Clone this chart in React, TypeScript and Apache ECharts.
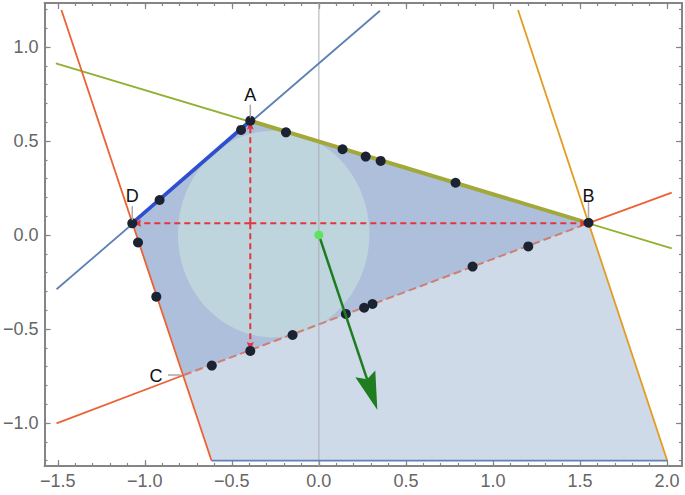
import React, { useEffect, useRef } from "react";
import * as echarts from "echarts";

// ---- axis ranges & ticks ----
const xMin = -1.576;
const xMax = 2.086;
const yMin = -1.229;
const yMax = 1.234;
const xMajor = [-1.5, -1.0, -0.5, 0.0, 0.5, 1.0, 1.5, 2.0];
const yMajor = [-1.0, -0.5, 0.0, 0.5, 1.0];

// ---- corner points A, B, C, D ----
const cornerNames = ["A", "B", "C", "D"];
const cornerX = [-0.394, 1.549, -0.775, -1.072];
const cornerY = [0.608, 0.063, -0.745, 0.063];

// ---- feasible region (light) ----
const regionX = [-1.072, -0.394, 1.549, 2.001, -0.617];
const regionY = [0.063, 0.608, 0.063, -1.2, -1.2];

// ---- inscribed circle ----
const circleCenter = [-0.26, 0.005];
const circleRadius = 0.55;

// ---- constraint lines ----
const lineBlueX = [-1.507, 0.351];
const lineBlueY = [-0.289, 1.193];
const lineOliveX = [-1.511, 2.027];
const lineOliveY = [0.913, -0.071];
const lineSteepLeftX = [-1.479, -0.617];
const lineSteepLeftY = [1.197, -1.2];
const lineGoldX = [1.144, 2.001];
const lineGoldY = [1.197, -1.2];
const lineLowLeftX = [-1.507, -0.775];
const lineLowLeftY = [-1.002, -0.745];
const lineLowRightX = [1.549, 2.027];
const lineLowRightY = [0.063, 0.225];
const lineBottomX = [-0.617, 2.001];
const lineBottomY = [-1.2, -1.2];

// ---- sample points ----
const dotX = [-1.072, -1.039, -0.934, -0.915, -0.615, -0.447, -0.394, -0.189, 0.136, 0.269, 0.355, 0.785, 1.549, -0.394, -0.151, 0.155, 0.26, 0.308, 0.883, 1.203];
const dotY = [0.062, -0.04, -0.328, 0.186, -0.695, 0.559, 0.608, 0.546, 0.456, 0.417, 0.394, 0.278, 0.065, -0.617, -0.532, -0.42, -0.387, -0.367, -0.168, -0.061];

// ---- arrows ----
const redArrowStart = [-0.394, 0.063];
const redArrowEndX = [-0.394, 1.549, -1.072, -0.394];
const redArrowEndY = [0.608, 0.063, 0.063, -0.617];
const greenArrowStart = [0, 0];
const greenArrowEnd = [0.336, -0.931];

const fmt = (v: number) => (v < 0 ? "\u2212" : "") + Math.abs(v).toFixed(1);

function minorTicks(lo: number, hi: number) {
  const out: number[] = [];
  for (let k = Math.ceil(lo * 10); k <= Math.floor(hi * 10); k++) out.push(k / 10);
  return out;
}

const AXIS_COLOR = "#858585";
const LABEL_COLOR = "#666";

function axis(min: number, max: number, position: string, values: number[], len: number, labels: boolean, line: boolean) {
  return {
    type: "value",
    min,
    max,
    position,
    axisLine: { show: line, onZero: false, lineStyle: { color: AXIS_COLOR, width: 2 } },
    axisTick: { show: true, inside: true, length: len, customValues: values, lineStyle: { color: AXIS_COLOR, width: 1.2 } },
    axisLabel: {
      show: labels,
      customValues: values,
      formatter: fmt,
      color: LABEL_COLOR,
      fontSize: 18,
      fontFamily: "Liberation Sans, Arial, sans-serif",
      margin: 6,
    },
    splitLine: { show: false },
  };
}

function seg(xs: number[], ys: number[], color: string, width: number, z: number, type = "solid") {
  return {
    type: "line",
    data: xs.map((x, i) => [x, ys[i]]),
    showSymbol: false,
    symbol: "none",
    silent: true,
    lineStyle: { color, width, type },
    z,
  };
}

function arrowSeries(starts: number[][], ends: number[][], color: string, width: number, headLen: number, headW: number, dash: number[] | null, z: number) {
  return {
    type: "custom",
    silent: true,
    z,
    data: starts.map((s, i) => [s[0], s[1], ends[i][0], ends[i][1]]),
    renderItem: (params: any, api: any) => {
      const p0 = api.coord([api.value(0), api.value(1)]);
      const p1 = api.coord([api.value(2), api.value(3)]);
      const dx = p1[0] - p0[0];
      const dy = p1[1] - p0[1];
      const L = Math.hypot(dx, dy) || 1;
      const ux = dx / L, uy = dy / L;
      const nx = -uy, ny = ux;
      const bx = p1[0] - ux * headLen, by = p1[1] - uy * headLen;
      const notch = [p1[0] - ux * headLen * 0.85, p1[1] - uy * headLen * 0.85];
      return {
        type: "group",
        children: [
          {
            type: "line",
            shape: { x1: p0[0], y1: p0[1], x2: notch[0], y2: notch[1] },
            style: { stroke: color, lineWidth: width, lineDash: dash || undefined, fill: null },
          },
          {
            type: "polygon",
            shape: { points: [[p1[0], p1[1]], [bx + nx * headW / 2, by + ny * headW / 2], notch, [bx - nx * headW / 2, by - ny * headW / 2]] },
            style: { fill: color },
          },
        ],
      };
    },
  };
}

const labelOffsets: Record<string, { t: number[]; l: number[] }> = {
  A: { t: [0, -26], l: [0, -16, 0, -3] },
  B: { t: [0, -27], l: [0, -21, 0, -5] },
  C: { t: [-28, 1], l: [-16, 0, -3, 0] },
  D: { t: [0, -27], l: [0, -17, 0, -3] },
};

export default function App() {
  const ref = useRef<HTMLDivElement>(null);
  useEffect(() => {
    if (!ref.current) return;
    const chart = echarts.init(ref.current, null, { renderer: "svg" });
    const xMinor = minorTicks(xMin, xMax);
    const yMinor = minorTicks(yMin, yMax);
    const option: any = {
      animation: false,
      backgroundColor: "#fff",
      grid: { left: 43, right: 3, top: 3, bottom: 29, containLabel: false },
      xAxis: [
        axis(xMin, xMax, "bottom", xMajor, 6, true, true),
        axis(xMin, xMax, "bottom", xMinor, 3, false, false),
        axis(xMin, xMax, "top", xMajor, 6, false, true),
        axis(xMin, xMax, "top", xMinor, 3, false, false),
      ],
      yAxis: [
        axis(yMin, yMax, "left", yMajor, 6, true, true),
        axis(yMin, yMax, "left", yMinor, 3, false, false),
        axis(yMin, yMax, "right", yMajor, 6, false, true),
        axis(yMin, yMax, "right", yMinor, 3, false, false),
      ],
      series: [
        // light feasible region
        {
          type: "custom",
          silent: true,
          z: 1,
          data: [0],
          renderItem: (p: any, api: any) => ({
            type: "polygon",
            shape: { points: regionX.map((x, i) => api.coord([x, regionY[i]])) },
            style: { fill: "#cfdae8" },
          }),
        },
        // darker quadrilateral ABCD
        {
          type: "custom",
          silent: true,
          z: 1,
          data: [0],
          renderItem: (p: any, api: any) => ({
            type: "polygon",
            shape: { points: cornerX.map((x, i) => api.coord([x, cornerY[i]])) },
            style: { fill: "#adbfda" },
          }),
        },
        // inscribed circle
        {
          type: "custom",
          silent: true,
          z: 1,
          data: [0],
          renderItem: (p: any, api: any) => {
            const c = api.coord(circleCenter);
            const s = api.size([circleRadius, circleRadius]);
            return { type: "ellipse", shape: { cx: c[0], cy: c[1], rx: s[0], ry: s[1] }, style: { fill: "#bed5dd" } };
          },
        },
        // vertical zero axis line
        seg([0, 0], [yMin, yMax], "#a9acb2", 1, 2),
        // constraint lines
        seg(lineBlueX, lineBlueY, "#5e81b5", 1.8, 3),
        seg(lineOliveX, lineOliveY, "#8fb131", 1.8, 3),
        seg(lineSteepLeftX, lineSteepLeftY, "#eb6235", 1.8, 3),
        seg(lineGoldX, lineGoldY, "#e19c24", 1.8, 3),
        seg(lineLowLeftX, lineLowLeftY, "#eb6235", 1.8, 3),
        seg(lineLowRightX, lineLowRightY, "#eb6235", 1.8, 3),
        seg(lineBottomX, lineBottomY, "#5e81b5", 1.8, 3),
        seg([cornerX[2], cornerX[1]], [cornerY[2], cornerY[1]], "#cf7f72", 2, 3, "dashed"),
        // highlighted edges D-A and A-B
        seg([cornerX[3], cornerX[0]], [cornerY[3], cornerY[0]], "#2f4fd2", 3.5, 4),
        seg([cornerX[0], cornerX[1]], [cornerY[0], cornerY[1]], "#a2a93a", 4, 4),
        // red dashed arrows
        arrowSeries(
          redArrowEndX.map(() => redArrowStart),
          redArrowEndX.map((x, i) => [x, redArrowEndY[i]]),
          "#e5343c",
          2,
          9,
          7,
          [6, 4],
          5
        ),
        // sample points
        {
          type: "scatter",
          silent: true,
          z: 6,
          symbolSize: 10,
          itemStyle: { color: "#1b2232", opacity: 1 },
          data: dotX.map((x, i) => [x, dotY[i]]),
        },
        // green arrow
        arrowSeries([greenArrowStart], [greenArrowEnd], "#1e7d1e", 2.5, 38, 21, null, 7),
        {
          type: "scatter",
          silent: true,
          z: 8,
          symbolSize: 9,
          itemStyle: { color: "#5fe35f", opacity: 1 },
          data: [greenArrowStart],
        },
        // corner labels with leader lines
        {
          type: "custom",
          silent: true,
          z: 9,
          data: cornerX.map((x, i) => [x, cornerY[i]]),
          renderItem: (params: any, api: any) => {
            const name = cornerNames[params.dataIndex];
            const p = api.coord([api.value(0), api.value(1)]);
            const o = labelOffsets[name];
            return {
              type: "group",
              children: [
                {
                  type: "line",
                  shape: { x1: p[0] + o.l[0], y1: p[1] + o.l[1], x2: p[0] + o.l[2], y2: p[1] + o.l[3] },
                  style: { stroke: "#a8a8a8", lineWidth: 1.5, fill: null },
                },
                {
                  type: "text",
                  x: p[0] + o.t[0],
                  y: p[1] + o.t[1],
                  style: {
                    text: name,
                    fill: "#111",
                    font: "18px 'Liberation Sans', Arial, sans-serif",
                    align: "center",
                    verticalAlign: "middle",
                  },
                },
              ],
            };
          },
        },
      ],
    };
    chart.setOption(option);
    return () => chart.dispose();
  }, []);
  return (
    <div
      ref={ref}
      style={{ position: "fixed", left: 0, top: 0, width: 685, height: 495, background: "#fff" }}
    />
  );
}
